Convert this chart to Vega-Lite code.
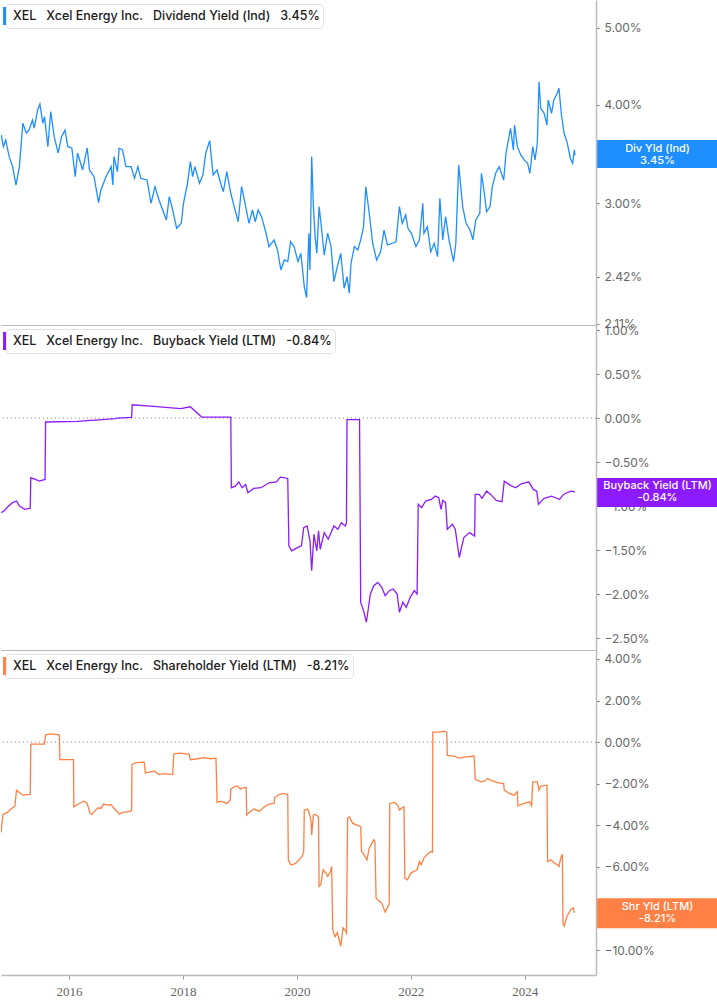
{
"$schema": "https://vega.github.io/schema/vega-lite/v6.json",
"padding": 0,
"spacing": 0,
"bounds": "flush",
"background": "white",
"config": {"view": {"stroke": null}, "font": "Inter",
  "legend": {"orient": "top-left", "offset": 4, "padding": 3, "fillColor": "white", "strokeColor": "#e2e2e2", "cornerRadius": 4, "title": null, "symbolType": "M-1.55,-1h0.34v2h-0.34z", "symbolSize": 324, "symbolStrokeWidth": 0, "labelOffset": -13, "labelFont": "Inter", "labelFontSize": 12.5, "labelFontWeight": 500, "labelColor": "#1a1a1a", "labelLimit": 1000},
  "axisY": {"orient": "right", "title": null, "grid": false, "domainColor": "#bbbbbb", "domainWidth": 1.5, "tickColor": "#777777", "tickSize": 3, "labelColor": "#666666", "labelFontSize": 12, "labelFont": "Inter", "labelPadding": 5, "labelOverlap": false, "labelBound": false, "labelFlush": false, "labelExpr": "format(datum.value,'.2f')+'%'"}
},
"datasets": {
"div": [
{"t":2014.81,"v":3.66},{"t":2014.85,"v":3.537},{"t":2014.89,"v":3.607},{"t":2014.95,"v":3.436},{"t":2015.01,"v":3.337},{"t":2015.07,"v":3.163},{"t":2015.13,"v":3.337},{"t":2015.19,"v":3.787},{"t":2015.25,"v":3.681},{"t":2015.30,"v":3.714},{"t":2015.36,"v":3.823},{"t":2015.39,"v":3.735},{"t":2015.45,"v":3.937},{"t":2015.49,"v":4.006},{"t":2015.54,"v":3.787},{"t":2015.57,"v":3.861},{"t":2015.63,"v":3.537},{"t":2015.68,"v":3.917},{"t":2015.74,"v":3.642},{"t":2015.81,"v":3.473},{"t":2015.87,"v":3.642},{"t":2015.93,"v":3.714},{"t":2015.98,"v":3.537},{"t":2016.05,"v":3.524},{"t":2016.11,"v":3.241},{"t":2016.15,"v":3.473},{"t":2016.24,"v":3.305},{"t":2016.32,"v":3.524},{"t":2016.36,"v":3.305},{"t":2016.44,"v":3.241},{"t":2016.52,"v":3.004},{"t":2016.56,"v":3.118},{"t":2016.65,"v":3.241},{"t":2016.74,"v":3.337},{"t":2016.77,"v":3.163},{"t":2016.79,"v":3.436},{"t":2016.85,"v":3.289},{"t":2016.88,"v":3.521},{"t":2016.94,"v":3.504},{"t":2017.00,"v":3.337},{"t":2017.09,"v":3.337},{"t":2017.15,"v":3.226},{"t":2017.21,"v":3.337},{"t":2017.26,"v":3.226},{"t":2017.37,"v":3.21},{"t":2017.44,"v":2.999},{"t":2017.51,"v":3.148},{"t":2017.58,"v":3.028},{"t":2017.71,"v":2.857},{"t":2017.76,"v":3.057},{"t":2017.82,"v":2.941},{"t":2017.89,"v":2.788},{"t":2017.97,"v":2.829},{"t":2018.01,"v":2.999},{"t":2018.08,"v":3.179},{"t":2018.13,"v":3.386},{"t":2018.17,"v":3.241},{"t":2018.21,"v":3.337},{"t":2018.29,"v":3.179},{"t":2018.35,"v":3.257},{"t":2018.40,"v":3.47},{"t":2018.47,"v":3.6},{"t":2018.53,"v":3.257},{"t":2018.60,"v":3.305},{"t":2018.67,"v":3.163},{"t":2018.71,"v":3.102},{"t":2018.77,"v":3.289},{"t":2018.84,"v":3.088},{"t":2018.90,"v":2.97},{"t":2018.97,"v":2.842},{"t":2019.03,"v":3.148},{"t":2019.09,"v":2.999},{"t":2019.16,"v":2.829},{"t":2019.22,"v":2.941},{"t":2019.27,"v":2.842},{"t":2019.32,"v":2.941},{"t":2019.38,"v":2.884},{"t":2019.46,"v":2.748},{"t":2019.51,"v":2.643},{"t":2019.60,"v":2.695},{"t":2019.66,"v":2.617},{"t":2019.72,"v":2.469},{"t":2019.78,"v":2.542},{"t":2019.84,"v":2.53},{"t":2019.89,"v":2.681},{"t":2019.95,"v":2.643},{"t":2020.02,"v":2.53},{"t":2020.07,"v":2.592},{"t":2020.13,"v":2.352},{"t":2020.17,"v":2.277},{"t":2020.21,"v":2.748},{"t":2020.23,"v":2.469},{"t":2020.26,"v":3.436},{"t":2020.29,"v":2.97},{"t":2020.32,"v":2.721},{"t":2020.35,"v":2.592},{"t":2020.39,"v":2.97},{"t":2020.43,"v":2.801},{"t":2020.48,"v":2.579},{"t":2020.54,"v":2.748},{"t":2020.60,"v":2.643},{"t":2020.65,"v":2.386},{"t":2020.71,"v":2.493},{"t":2020.77,"v":2.592},{"t":2020.83,"v":2.341},{"t":2020.88,"v":2.421},{"t":2020.92,"v":2.307},{"t":2020.95,"v":2.518},{"t":2021.01,"v":2.643},{"t":2021.07,"v":2.617},{"t":2021.12,"v":2.695},{"t":2021.17,"v":2.801},{"t":2021.21,"v":3.148},{"t":2021.27,"v":2.913},{"t":2021.33,"v":2.669},{"t":2021.40,"v":2.542},{"t":2021.47,"v":2.604},{"t":2021.53,"v":2.774},{"t":2021.59,"v":2.656},{"t":2021.68,"v":2.669},{"t":2021.74,"v":2.681},{"t":2021.80,"v":2.97},{"t":2021.85,"v":2.829},{"t":2021.91,"v":2.899},{"t":2021.95,"v":2.788},{"t":2022.01,"v":2.748},{"t":2022.09,"v":2.643},{"t":2022.15,"v":2.695},{"t":2022.21,"v":2.999},{"t":2022.23,"v":2.748},{"t":2022.29,"v":2.801},{"t":2022.35,"v":2.604},{"t":2022.41,"v":2.669},{"t":2022.47,"v":2.567},{"t":2022.51,"v":3.043},{"t":2022.56,"v":2.695},{"t":2022.61,"v":2.884},{"t":2022.67,"v":2.695},{"t":2022.75,"v":2.53},{"t":2022.79,"v":2.669},{"t":2022.84,"v":3.354},{"t":2022.91,"v":2.97},{"t":2022.97,"v":2.829},{"t":2023.04,"v":2.774},{"t":2023.09,"v":2.695},{"t":2023.14,"v":2.857},{"t":2023.21,"v":2.913},{"t":2023.24,"v":3.273},{"t":2023.29,"v":3.088},{"t":2023.33,"v":2.927},{"t":2023.39,"v":2.97},{"t":2023.43,"v":3.148},{"t":2023.49,"v":3.273},{"t":2023.55,"v":3.337},{"t":2023.63,"v":3.21},{"t":2023.67,"v":3.47},{"t":2023.75,"v":3.732},{"t":2023.80,"v":3.504},{"t":2023.82,"v":3.768},{"t":2023.87,"v":3.537},{"t":2023.93,"v":3.453},{"t":2023.99,"v":3.403},{"t":2024.05,"v":3.37},{"t":2024.09,"v":3.273},{"t":2024.14,"v":3.537},{"t":2024.18,"v":3.403},{"t":2024.22,"v":3.572},{"t":2024.25,"v":4.275},{"t":2024.28,"v":3.956},{"t":2024.34,"v":3.899},{"t":2024.39,"v":3.768},{"t":2024.41,"v":4.053},{"t":2024.47,"v":3.899},{"t":2024.51,"v":4.053},{"t":2024.57,"v":4.133},{"t":2024.60,"v":4.194},{"t":2024.64,"v":3.899},{"t":2024.69,"v":3.678},{"t":2024.74,"v":3.589},{"t":2024.80,"v":3.42},{"t":2024.84,"v":3.37},{"t":2024.87,"v":3.504},{"t":2024.88,"v":3.45}
],
"bb": [
{"t":2014.81,"v":-1.075},{"t":2014.87,"v":-1.05},{"t":2014.94,"v":-1.0},{"t":2015.01,"v":-0.962},{"t":2015.08,"v":-0.943},{"t":2015.13,"v":-1.0},{"t":2015.18,"v":-1.019},{"t":2015.22,"v":-1.038},{"t":2015.32,"v":-1.026},{"t":2015.33,"v":-0.679},{"t":2015.41,"v":-0.698},{"t":2015.48,"v":-0.717},{"t":2015.58,"v":-0.698},{"t":2015.59,"v":-0.045},{"t":2016.15,"v":-0.038},{"t":2016.82,"v":-0.008},{"t":2016.85,"v":0.0},{"t":2017.10,"v":0.008},{"t":2017.11,"v":0.151},{"t":2017.49,"v":0.132},{"t":2017.96,"v":0.106},{"t":2018.13,"v":0.128},{"t":2018.33,"v":0.011},{"t":2018.84,"v":0.011},{"t":2018.85,"v":-0.792},{"t":2018.92,"v":-0.774},{"t":2018.98,"v":-0.725},{"t":2019.04,"v":-0.792},{"t":2019.10,"v":-0.755},{"t":2019.14,"v":-0.849},{"t":2019.24,"v":-0.80},{"t":2019.37,"v":-0.792},{"t":2019.51,"v":-0.736},{"t":2019.64,"v":-0.725},{"t":2019.71,"v":-0.672},{"t":2019.79,"v":-0.679},{"t":2019.84,"v":-0.687},{"t":2019.86,"v":-1.453},{"t":2019.91,"v":-1.509},{"t":2020.01,"v":-1.472},{"t":2020.08,"v":-1.453},{"t":2020.12,"v":-1.245},{"t":2020.18,"v":-1.226},{"t":2020.23,"v":-1.396},{"t":2020.26,"v":-1.736},{"t":2020.30,"v":-1.321},{"t":2020.35,"v":-1.509},{"t":2020.38,"v":-1.283},{"t":2020.41,"v":-1.491},{"t":2020.48,"v":-1.302},{"t":2020.55,"v":-1.377},{"t":2020.65,"v":-1.226},{"t":2020.72,"v":-1.264},{"t":2020.78,"v":-1.189},{"t":2020.85,"v":-1.226},{"t":2020.87,"v":-1.189},{"t":2020.88,"v":-0.019},{"t":2021.10,"v":-0.019},{"t":2021.12,"v":-2.094},{"t":2021.17,"v":-2.189},{"t":2021.22,"v":-2.321},{"t":2021.29,"v":-2.0},{"t":2021.35,"v":-1.906},{"t":2021.42,"v":-1.868},{"t":2021.49,"v":-1.925},{"t":2021.55,"v":-2.019},{"t":2021.62,"v":-1.962},{"t":2021.69,"v":-1.943},{"t":2021.76,"v":-2.0},{"t":2021.80,"v":-2.208},{"t":2021.86,"v":-2.094},{"t":2021.92,"v":-2.151},{"t":2021.99,"v":-2.038},{"t":2022.06,"v":-1.962},{"t":2022.11,"v":-2.0},{"t":2022.13,"v":-0.981},{"t":2022.19,"v":-1.019},{"t":2022.26,"v":-0.943},{"t":2022.36,"v":-0.925},{"t":2022.43,"v":-0.887},{"t":2022.49,"v":-0.906},{"t":2022.53,"v":-1.038},{"t":2022.56,"v":-0.936},{"t":2022.61,"v":-0.962},{"t":2022.64,"v":-1.264},{"t":2022.73,"v":-1.208},{"t":2022.78,"v":-1.264},{"t":2022.85,"v":-1.585},{"t":2022.93,"v":-1.358},{"t":2023.03,"v":-1.302},{"t":2023.12,"v":-1.34},{"t":2023.13,"v":-0.868},{"t":2023.20,"v":-0.868},{"t":2023.25,"v":-0.913},{"t":2023.33,"v":-0.83},{"t":2023.40,"v":-0.868},{"t":2023.50,"v":-0.936},{"t":2023.60,"v":-0.951},{"t":2023.64,"v":-0.717},{"t":2023.74,"v":-0.762},{"t":2023.84,"v":-0.792},{"t":2023.94,"v":-0.747},{"t":2024.07,"v":-0.725},{"t":2024.15,"v":-0.811},{"t":2024.21,"v":-0.83},{"t":2024.24,"v":-0.981},{"t":2024.34,"v":-0.913},{"t":2024.47,"v":-0.887},{"t":2024.54,"v":-0.906},{"t":2024.61,"v":-0.925},{"t":2024.68,"v":-0.868},{"t":2024.74,"v":-0.849},{"t":2024.81,"v":-0.83},{"t":2024.88,"v":-0.84}
],
"shy": [
{"t":2014.81,"v":-4.34},{"t":2014.84,"v":-3.48},{"t":2014.92,"v":-3.38},{"t":2014.98,"v":-3.22},{"t":2015.05,"v":-3.08},{"t":2015.08,"v":-2.31},{"t":2015.13,"v":-2.42},{"t":2015.19,"v":-2.55},{"t":2015.32,"v":-2.52},{"t":2015.33,"v":-0.096},{"t":2015.57,"v":-0.096},{"t":2015.59,"v":0.35},{"t":2015.68,"v":0.40},{"t":2015.83,"v":0.35},{"t":2015.84,"v":-0.845},{"t":2016.08,"v":-0.845},{"t":2016.085,"v":-3.11},{"t":2016.18,"v":-2.95},{"t":2016.26,"v":-2.84},{"t":2016.32,"v":-2.95},{"t":2016.37,"v":-3.43},{"t":2016.40,"v":-3.48},{"t":2016.47,"v":-3.27},{"t":2016.51,"v":-3.16},{"t":2016.56,"v":-3.19},{"t":2016.61,"v":-2.98},{"t":2016.68,"v":-3.03},{"t":2016.74,"v":-3.0},{"t":2016.78,"v":-3.16},{"t":2016.85,"v":-3.35},{"t":2016.88,"v":-3.48},{"t":2016.94,"v":-3.38},{"t":2017.03,"v":-3.35},{"t":2017.10,"v":-3.30},{"t":2017.105,"v":-1.07},{"t":2017.18,"v":-0.99},{"t":2017.32,"v":-0.96},{"t":2017.34,"v":-1.48},{"t":2017.41,"v":-1.44},{"t":2017.50,"v":-1.40},{"t":2017.58,"v":-1.56},{"t":2017.67,"v":-1.52},{"t":2017.82,"v":-1.56},{"t":2017.84,"v":-0.56},{"t":2017.96,"v":-0.53},{"t":2018.11,"v":-0.59},{"t":2018.13,"v":-0.845},{"t":2018.26,"v":-0.80},{"t":2018.37,"v":-0.75},{"t":2018.49,"v":-0.80},{"t":2018.58,"v":-0.77},{"t":2018.60,"v":-2.90},{"t":2018.67,"v":-2.84},{"t":2018.77,"v":-2.95},{"t":2018.83,"v":-2.79},{"t":2018.84,"v":-2.26},{"t":2018.90,"v":-2.15},{"t":2018.96,"v":-2.11},{"t":2019.01,"v":-2.26},{"t":2019.05,"v":-2.20},{"t":2019.11,"v":-2.18},{"t":2019.12,"v":-3.51},{"t":2019.16,"v":-3.38},{"t":2019.25,"v":-3.22},{"t":2019.34,"v":-3.32},{"t":2019.43,"v":-3.11},{"t":2019.51,"v":-2.98},{"t":2019.60,"v":-2.95},{"t":2019.61,"v":-2.68},{"t":2019.69,"v":-2.52},{"t":2019.75,"v":-2.47},{"t":2019.84,"v":-2.52},{"t":2019.85,"v":-5.66},{"t":2019.89,"v":-5.90},{"t":2019.95,"v":-5.87},{"t":2019.98,"v":-5.82},{"t":2020.04,"v":-5.66},{"t":2020.09,"v":-5.50},{"t":2020.12,"v":-5.26},{"t":2020.13,"v":-3.27},{"t":2020.19,"v":-3.22},{"t":2020.22,"v":-3.43},{"t":2020.25,"v":-3.83},{"t":2020.26,"v":-4.47},{"t":2020.29,"v":-3.51},{"t":2020.33,"v":-3.48},{"t":2020.38,"v":-3.59},{"t":2020.39,"v":-6.94},{"t":2020.42,"v":-6.86},{"t":2020.46,"v":-6.14},{"t":2020.51,"v":-6.30},{"t":2020.54,"v":-6.46},{"t":2020.59,"v":-6.22},{"t":2020.61,"v":-5.98},{"t":2020.63,"v":-9.04},{"t":2020.67,"v":-9.36},{"t":2020.71,"v":-9.17},{"t":2020.77,"v":-9.81},{"t":2020.81,"v":-8.93},{"t":2020.86,"v":-9.09},{"t":2020.87,"v":-9.25},{"t":2020.89,"v":-3.67},{"t":2020.92,"v":-3.59},{"t":2020.98,"v":-3.91},{"t":2021.06,"v":-3.99},{"t":2021.12,"v":-4.07},{"t":2021.135,"v":-5.26},{"t":2021.18,"v":-5.42},{"t":2021.23,"v":-5.66},{"t":2021.27,"v":-5.10},{"t":2021.35,"v":-4.70},{"t":2021.37,"v":-4.78},{"t":2021.39,"v":-7.50},{"t":2021.45,"v":-7.66},{"t":2021.49,"v":-7.74},{"t":2021.55,"v":-8.18},{"t":2021.60,"v":-7.89},{"t":2021.62,"v":-7.81},{"t":2021.63,"v":-2.95},{"t":2021.71,"v":-2.90},{"t":2021.77,"v":-3.03},{"t":2021.80,"v":-3.27},{"t":2021.87,"v":-3.11},{"t":2021.88,"v":-3.11},{"t":2021.895,"v":-6.54},{"t":2021.94,"v":-6.62},{"t":2022.00,"v":-6.30},{"t":2022.06,"v":-6.22},{"t":2022.11,"v":-6.14},{"t":2022.15,"v":-5.74},{"t":2022.18,"v":-5.90},{"t":2022.23,"v":-5.58},{"t":2022.29,"v":-5.39},{"t":2022.35,"v":-5.26},{"t":2022.38,"v":-5.30},{"t":2022.386,"v":0.48},{"t":2022.50,"v":0.48},{"t":2022.585,"v":0.53},{"t":2022.63,"v":0.48},{"t":2022.64,"v":-0.64},{"t":2022.76,"v":-0.67},{"t":2022.85,"v":-0.77},{"t":2022.94,"v":-0.72},{"t":2023.11,"v":-0.67},{"t":2023.13,"v":-1.79},{"t":2023.23,"v":-1.91},{"t":2023.29,"v":-1.88},{"t":2023.35,"v":-1.75},{"t":2023.40,"v":-1.83},{"t":2023.52,"v":-1.95},{"t":2023.63,"v":-1.99},{"t":2023.64,"v":-2.31},{"t":2023.73,"v":-2.47},{"t":2023.81,"v":-2.55},{"t":2023.87,"v":-2.39},{"t":2023.88,"v":-3.06},{"t":2023.99,"v":-2.95},{"t":2024.08,"v":-2.87},{"t":2024.12,"v":-3.06},{"t":2024.14,"v":-1.91},{"t":2024.22,"v":-1.91},{"t":2024.25,"v":-2.31},{"t":2024.28,"v":-2.11},{"t":2024.39,"v":-2.07},{"t":2024.40,"v":-5.74},{"t":2024.46,"v":-5.66},{"t":2024.52,"v":-5.82},{"t":2024.57,"v":-5.90},{"t":2024.60,"v":-5.98},{"t":2024.63,"v":-5.58},{"t":2024.66,"v":-5.39},{"t":2024.67,"v":-8.69},{"t":2024.69,"v":-8.85},{"t":2024.74,"v":-8.37},{"t":2024.81,"v":-8.05},{"t":2024.85,"v":-7.97},{"t":2024.87,"v":-8.21}
]
},
"resolve": {"scale": {"x": "independent", "y": "independent", "color": "independent"}, "legend": {"color": "independent"}},
"vconcat": [
{
 "width": 595, "height": 325,
 "layer": [
  {"data": {"name": "div"},
   "mark": {"type": "line", "strokeWidth": 1.3, "clip": true},
   "encoding": {
    "x": {"field": "t", "type": "quantitative", "scale": {"domain": [2014.807, 2025.25], "nice": false, "zero": false}, "axis": {"orient": "bottom", "title": null, "labels": false, "ticks": false, "domain": true, "domainColor": "#bbbbbb", "minExtent": 0, "maxExtent": 0, "grid": false}},
    "y": {"field": "v", "type": "quantitative", "scale": {"type": "log", "domain": [2.103, 5.425], "nice": false}, "axis": {"values": [2.11, 2.42, 3, 4, 5]}},
    "color": {"datum": "XEL\u00a0\u00a0 Xcel Energy Inc.\u00a0\u00a0 Dividend Yield (Ind)\u00a0\u00a0 3.45%", "type": "nominal", "scale": {"range": ["#1f8fff"]}, "legend": {"symbolFillColor": "#1f8fff"}}
   }},
  {"data": {"values": [{"label": "Div Yld (Ind)\n3.45%", "v": 3.45}]},
   "mark": {"type": "rect", "color": "#1f8fff"},
   "encoding": {"x": {"datum": 2025.27, "type": "quantitative"}, "x2": {"datum": 2027.6}, "y": {"datum": 3.607, "type": "quantitative"}, "y2": {"datum": 3.324}}},
  {"data": {"values": [{"label": "Div Yld (Ind)\n3.45%", "v": 3.45}]},
   "mark": {"type": "text", "color": "white", "fontSize": 11, "fontWeight": 500, "lineBreak": "\n", "lineHeight": 12, "baseline": "middle", "align": "center", "dy": -6},
   "encoding": {"x": {"datum": 2026.33, "type": "quantitative"}, "y": {"field": "v", "type": "quantitative"}, "text": {"field": "label"}}}
 ]
},
{
 "width": 595, "height": 325,
 "layer": [
  {"data": {"values": [{}]},
   "mark": {"type": "rule", "strokeDash": [1, 3], "color": "#888888", "strokeWidth": 1},
   "encoding": {"y": {"datum": 0, "type": "quantitative"}}},
  {"data": {"name": "bb"},
   "mark": {"type": "line", "strokeWidth": 1.3, "clip": true},
   "encoding": {
    "x": {"field": "t", "type": "quantitative", "scale": {"domain": [2014.807, 2025.25], "nice": false, "zero": false}, "axis": {"orient": "bottom", "title": null, "labels": false, "ticks": false, "domain": true, "domainColor": "#bbbbbb", "minExtent": 0, "maxExtent": 0, "grid": false}},
    "y": {"field": "v", "type": "quantitative", "scale": {"domain": [-2.636, 1.057], "nice": false, "zero": false}, "axis": {"values": [1, 0.5, 0, -0.5, -1, -1.5, -2, -2.5]}},
    "color": {"datum": "XEL\u00a0\u00a0 Xcel Energy Inc.\u00a0\u00a0 Buyback Yield (LTM)\u00a0\u00a0 -0.84%", "type": "nominal", "scale": {"range": ["#8c1bff"]}, "legend": {"symbolFillColor": "#8c1bff"}}
   }},
  {"data": {"values": [{"label": "Buyback Yield (LTM)\n-0.84%", "v": -0.84}]},
   "mark": {"type": "rect", "color": "#8c1bff"},
   "encoding": {"x": {"datum": 2025.27, "type": "quantitative"}, "x2": {"datum": 2027.6}, "y": {"datum": -0.682, "type": "quantitative"}, "y2": {"datum": -1.011}}},
  {"data": {"values": [{"label": "Buyback Yield (LTM)\n-0.84%", "v": -0.84}]},
   "mark": {"type": "text", "color": "white", "fontSize": 11, "fontWeight": 500, "lineBreak": "\n", "lineHeight": 12, "baseline": "middle", "align": "center", "dy": -6},
   "encoding": {"x": {"datum": 2026.33, "type": "quantitative"}, "y": {"field": "v", "type": "quantitative"}, "text": {"field": "label"}}}
 ]
},
{
 "width": 595, "height": 325,
 "layer": [
  {"data": {"values": [{}]},
   "mark": {"type": "rule", "strokeDash": [1, 3], "color": "#888888", "strokeWidth": 1},
   "encoding": {"y": {"datum": 0, "type": "quantitative"}}},
  {"data": {"name": "shy"},
   "mark": {"type": "line", "strokeWidth": 1.3, "clip": true},
   "encoding": {
    "x": {"field": "t", "type": "quantitative", "scale": {"domain": [2014.807, 2025.25], "nice": false, "zero": false}, "axis": {"orient": "bottom", "title": null, "values": [2016, 2018, 2020, 2022, 2024], "format": "d", "tickSize": 4, "tickColor": "#999999", "domainColor": "#bbbbbb", "domainWidth": 1.5, "labelColor": "#666666", "labelFontSize": 13, "labelFont": "Liberation Sans Narrow", "labelPadding": 6, "grid": false}},
    "y": {"field": "v", "type": "quantitative", "scale": {"domain": [-11.2, 4.43], "nice": false, "zero": false}, "axis": {"values": [4, 2, 0, -2, -4, -6, -8, -10]}},
    "color": {"datum": "XEL\u00a0\u00a0 Xcel Energy Inc.\u00a0\u00a0 Shareholder Yield (LTM)\u00a0\u00a0 -8.21%", "type": "nominal", "scale": {"range": ["#ff8045"]}, "legend": {"symbolFillColor": "#ff8045"}}
   }},
  {"data": {"values": [{"label": "Shr Yld (LTM)\n-8.21%", "v": -8.21}]},
   "mark": {"type": "rect", "color": "#ff8045"},
   "encoding": {"x": {"datum": 2025.27, "type": "quantitative"}, "x2": {"datum": 2027.6}, "y": {"datum": -7.51, "type": "quantitative"}, "y2": {"datum": -8.95}}},
  {"data": {"values": [{"label": "Shr Yld (LTM)\n-8.21%", "v": -8.21}]},
   "mark": {"type": "text", "color": "white", "fontSize": 11, "fontWeight": 500, "lineBreak": "\n", "lineHeight": 12, "baseline": "middle", "align": "center", "dy": -6},
   "encoding": {"x": {"datum": 2026.33, "type": "quantitative"}, "y": {"field": "v", "type": "quantitative"}, "text": {"field": "label"}}}
 ]
}
]
}
